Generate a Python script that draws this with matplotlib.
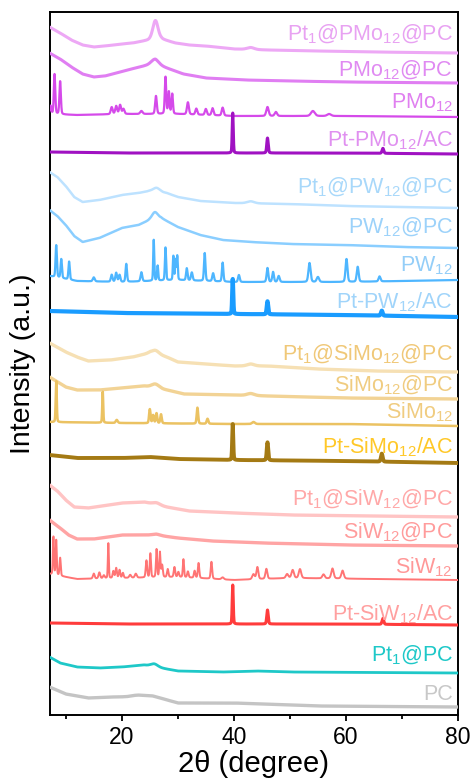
import numpy as np
import matplotlib
matplotlib.use("Agg")
import matplotlib.pyplot as plt

plt.rcParams['font.family'] = ['Liberation Sans', 'DejaVu Sans']
plt.rcParams['mathtext.fontset'] = 'custom'
plt.rcParams['mathtext.rm'] = 'Liberation Sans'
plt.rcParams['mathtext.it'] = 'Liberation Sans:italic'

# ---------------------------------------------------------------- data
# sample names (top to bottom)
names = [
    r"Pt$_1$@PMo$_{12}$@PC", r"PMo$_{12}$@PC", r"PMo$_{12}$", r"Pt-PMo$_{12}$/AC",
    r"Pt$_1$@PW$_{12}$@PC", r"PW$_{12}$@PC", r"PW$_{12}$", r"Pt-PW$_{12}$/AC",
    r"Pt$_1$@SiMo$_{12}$@PC", r"SiMo$_{12}$@PC", r"SiMo$_{12}$", r"Pt-SiMo$_{12}$/AC",
    r"Pt$_1$@SiW$_{12}$@PC", r"SiW$_{12}$@PC", r"SiW$_{12}$", r"Pt-SiW$_{12}$/AC",
    r"Pt$_1$@PC", "PC",
]

# background of each pattern: 2-theta (deg) and intensity (a.u.)
bg_tt = [
    [7.1, 9, 11, 13, 15, 17, 20, 22, 25, 27, 29.5, 32, 35, 40, 46, 55, 65, 80],
    [7.1, 9, 11, 13, 15, 17, 21, 24, 26, 28, 31, 35, 42, 50, 60, 80],
    [7.1, 12, 20, 30, 40, 60, 80],
    [7.1, 20, 40, 60, 80],
    [7.1, 8.5, 10, 11.5, 13, 16, 20, 23, 25, 28, 30, 34, 40, 50, 60, 70, 80],
    [7.1, 8.5, 10, 11.5, 13, 16, 20, 23, 25, 27, 30, 34, 38, 43, 50, 60, 70, 80],
    [7.1, 12, 20, 30, 40, 60, 80],
    [7.1, 20, 40, 60, 80],
    [7.1, 10, 12, 14, 18, 22, 25, 28, 30, 35, 40, 46, 55, 65, 80],
    [7.1, 10, 12, 16, 20, 24, 28, 31, 40, 46, 60, 80],
    [7.1, 20, 40, 60, 80],
    [7.1, 12, 20, 25, 30, 40, 60, 80],
    [7.1, 8.5, 10, 11.5, 14, 20, 24, 28, 32, 40, 50, 80],
    [7.1, 9, 10.5, 12, 15, 20, 26, 30, 36, 45, 60, 80],
    [7.1, 12, 20, 30, 40, 50, 80],
    [7.1, 20, 40, 60, 80],
    [7.1, 9, 12, 16, 20, 24, 27, 30, 38, 44, 50, 80],
    [7.1, 10, 14, 18, 21, 23, 25.5, 27.5, 30, 40, 45, 55, 80],
]
bg_int = [
    [26, 20, 13, 8, 6, 7, 9, 10, 13, 14, 10, 8, 7, 4, 3, 2, 1, 0],
    [30, 24, 16, 9, 6, 7, 13, 17, 19, 15, 9, 5, 3, 2, 1, 0],
    [3, 2, 3, 3, 1, 1, 0],
    [2, 1, 1, 1, 0],
    [36, 31, 22, 11, 6, 8, 13, 15, 17, 15, 11, 7, 5, 4, 2, 1, 0],
    [38, 32, 23, 12, 6, 10, 20, 23, 28, 30, 21, 13, 8, 6, 4, 3, 1, 0],
    [6, 1, 0, 2, 0, 0, 2],
    [6, 4, 3, 2, 0],
    [29, 20, 15, 11, 12, 15, 19, 15, 10, 8, 6, 6, 3, 1, 0],
    [22, 12, 9, 9, 11, 13, 9, 5, 4, 3, 1, 0],
    [4, 3, 2, 2, 0],
    [8, 5, 5, 6, 4, 3, 2, 0],
    [32, 26, 17, 10, 9, 14, 15, 10, 6, 4, 2, 0],
    [26, 18, 11, 7, 7, 11, 11, 8, 5, 3, 1, 0],
    [6, 1, 2, 3, 0, 2, 0],
    [2, 1, 1, 1, 0],
    [16, 10, 6, 5, 6, 8, 5, 2, 1, 2, 1, 0],
    [20, 13, 9, 10, 10, 11, 11, 8, 4, 4, 3, 1, 0],
]

# reflections: position (deg), height (a.u.), FWHM (deg)
pk_pos = [
    [26.0, 43.0],
    [25.9],
    [7.3, 8.0, 9.0, 18.2, 19.0, 19.7, 20.3, 23.5, 26.1, 27.8, 28.4, 29.0, 31.8,
     33.3, 35.0, 36.2, 38.0, 46.0, 47.5, 54.1, 57.0],
    [39.8, 46.0, 66.6],
    [26.2, 43.0],
    [25.9],
    [8.3, 9.2, 10.6, 15.0, 18.2, 19.0, 19.6, 20.8, 23.5, 25.7, 26.4, 27.8, 29.2,
     29.6, 29.9, 31.6, 32.5, 34.8, 36.3, 38.0, 40.9, 46.0, 47.0, 48.0, 53.5,
     55.0, 60.1, 62.1, 66.0],
    [39.8, 46.0, 66.4],
    [26.0, 43.0],
    [26.0, 43.0],
    [8.3, 16.6, 19.1, 25.0, 25.6, 26.2, 27.0, 33.5, 35.3, 43.5],
    [39.8, 46.0, 66.4],
    [26.2],
    [26.2],
    [7.8, 8.3, 9.0, 15.0, 16.0, 16.8, 17.6, 18.5, 19.0, 19.6, 20.2, 21.5, 22.5,
     24.4, 25.1, 26.2, 26.8, 27.2, 28.2, 29.4, 30.1, 31.0, 31.8, 33.0, 33.7,
     36.0, 38.0, 43.5, 44.2, 45.8, 49.5, 50.5, 51.8, 56.0, 57.6, 59.4],
    [39.8, 46.0, 66.6],
    [25.8],
    [22.5],
]
pk_h = [
    [19, 2],
    [5],
    [8, 40, 33, 7, 8, 9, 5, 3, 18, 37, 22, 20, 12, 6, 6, 7, 8, 9, 4, 5, 2],
    [40, 15, 5],
    [4, 2],
    [7],
    [32, 19, 18, 4, 7, 9, 7, 18, 9, 41, 15, 33, 24, 20, 24, 12, 8, 28, 8, 19,
     7, 14, 10, 6, 19, 5, 23, 15, 5],
    [35, 13, 5],
    [4, 2],
    [4, 2],
    [41, 31, 3, 14, 8, 10, 9, 16, 5, 2],
    [36, 18, 8],
    [2],
    [1],
    [38, 35, 18, 5, 6, 3, 35, 7, 10, 8, 5, 3, 4, 17, 24, 28, 25, 12, 8, 10, 5,
     18, 6, 7, 15, 17, 2, 5, 12, 10, 4, 8, 9, 4, 10, 8],
    [39, 14, 6],
    [3],
    [1],
]
pk_w = [
    [1.1, 1.5],
    [1.6],
    [0.3, 0.3, 0.3, 0.4, 0.4, 0.4, 0.4, 0.5, 0.35, 0.3, 0.3, 0.3, 0.4, 0.4, 0.4,
     0.4, 0.4, 0.5, 0.5, 0.8, 0.8],
    [0.22, 0.3, 0.35],
    [1.4, 1.5],
    [1.2],
    [0.28, 0.28, 0.28, 0.4, 0.35, 0.35, 0.35, 0.3, 0.35, 0.22, 0.25, 0.25, 0.22,
     0.22, 0.22, 0.3, 0.35, 0.3, 0.35, 0.3, 0.35, 0.35, 0.35, 0.4, 0.45, 0.5,
     0.4, 0.4, 0.4],
    [0.22, 0.3, 0.35],
    [1.6, 1.5],
    [1.6, 1.5],
    [0.22, 0.2, 0.4, 0.3, 0.3, 0.3, 0.3, 0.3, 0.35, 0.6],
    [0.22, 0.3, 0.35],
    [1.5],
    [1.5],
    [0.22, 0.22, 0.25, 0.35, 0.35, 0.35, 0.2, 0.3, 0.3, 0.3, 0.3, 0.4, 0.4, 0.3,
     0.25, 0.25, 0.25, 0.3, 0.3, 0.3, 0.3, 0.25, 0.3, 0.3, 0.3, 0.3, 0.5, 0.5,
     0.4, 0.4, 0.5, 0.5, 0.5, 0.5, 0.5, 0.5],
    [0.22, 0.3, 0.35],
    [1.5],
    [3.0],
]

# ---------------------------------------------------------------- styling
line_colors = [
    "#EDA8F5", "#E07EF2", "#D54AEA", "#A012C2",
    "#BDE2FF", "#8ACEFF", "#4EB6FF", "#1A9CFF",
    "#F6E0B4", "#F2D395", "#EBC262", "#A47A14",
    "#FFC4C4", "#FFA4A4", "#FF7474", "#FF3C3C",
    "#1EC8C8", "#C4C4C4",
]
label_colors = [
    "#E8A2F2", "#E08AF2", "#E080F0", "#E090F0",
    "#A8D8FA", "#9CD2FA", "#94CEF8", "#A0D4FA",
    "#F0C878", "#F0CC80", "#F0CC80", "#FFC828",
    "#FFA8A8", "#FF9C9C", "#FF9898", "#FFA0A0",
    "#1EC8C8", "#C8C8C8",
]
line_widths = [2.2, 2.2, 1.6, 2.2,
               1.8, 1.8, 1.6, 3.0,
               2.4, 2.4, 1.8, 2.8,
               2.4, 2.4, 1.4, 2.2,
               2.0, 2.4]
# vertical stacking offset of each pattern
offsets = [662, 632, 598, 561, 507, 467, 433, 398, 343, 316, 289, 252,
           198, 169, 135, 90, 42, 8]
# text baseline height for each name
label_y = [675, 639, 607, 569, 522, 482, 444, 407, 355, 324, 297, 262,
           210, 177, 142, 95, 54, 15]

x = np.linspace(7.1, 80, 4000)


def pattern(i):
    y = np.interp(x, bg_tt[i], bg_int[i])
    for c, h, w in zip(pk_pos[i], pk_h[i], pk_w[i]):
        s = w / 2.3548
        g = np.exp(-0.5 * ((x - c) / s) ** 2)
        lor = 1.0 / (1.0 + ((x - c) / (w / 2)) ** 2)
        y = y + h * (0.75 * g + 0.25 * lor)
    return y


fig = plt.figure(figsize=(4.70, 7.78), dpi=100)
ax = fig.add_axes([49.5 / 470, 63 / 778, 408.5 / 470, 703 / 778])

for i in range(len(names)):
    ax.plot(x, pattern(i) + offsets[i], color=line_colors[i],
            lw=line_widths[i], solid_joinstyle='round', zorder=3)
    ax.text(79.1, label_y[i], names[i], color=label_colors[i], fontsize=15.5,
            ha='right', va='baseline', zorder=4)

ax.set_xlim(7.1, 80)
ax.set_ylim(0, 703)
ax.set_xticks([20, 40, 60, 80])
ax.set_xticks([10, 30, 50, 70], minor=True)
ax.set_yticks([])
ax.tick_params(axis='x', which='major', direction='out', length=4, width=1.3,
               labelsize=16.5, pad=4)
ax.tick_params(axis='x', which='minor', direction='out', length=3, width=1.3)
for sp in ax.spines.values():
    sp.set_linewidth(1.4)
ax.set_xlabel("2θ (degree)", fontsize=21, labelpad=1)
ax.set_ylabel("Intensity (a.u.)", fontsize=20.5, labelpad=10)

fig.savefig("out.png", dpi=100)
